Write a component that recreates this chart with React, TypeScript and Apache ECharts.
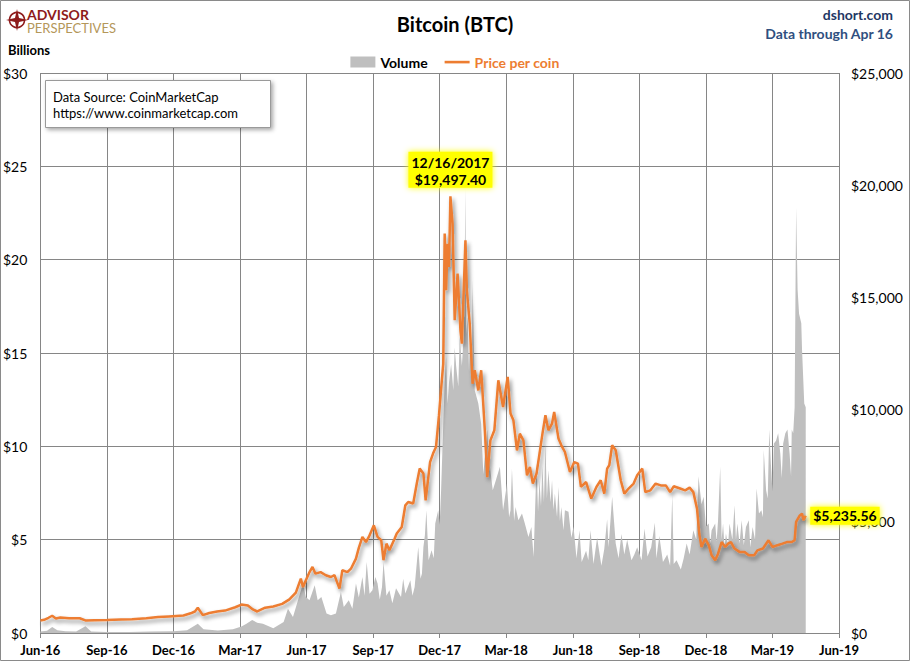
import React, { useEffect, useRef } from 'react';
import * as echarts from 'echarts';

const FONT = 'Lato, "Noto Sans", sans-serif';

const xTickLabels = ['Jun-16', 'Sep-16', 'Dec-16', 'Mar-17', 'Jun-17', 'Sep-17', 'Dec-17', 'Mar-18', 'Jun-18', 'Sep-18', 'Dec-18', 'Mar-19', 'Jun-19'];

const priceDates = [
  '2016-06-01', '2016-06-06', '2016-06-12', '2016-06-17', '2016-06-22', '2016-06-28', '2016-07-10', '2016-07-25', '2016-08-02', '2016-08-15',
  '2016-09-01', '2016-09-20', '2016-10-05', '2016-10-25', '2016-11-10', '2016-11-25', '2016-12-05', '2016-12-15', '2016-12-25', '2016-12-31',
  '2017-01-04', '2017-01-11', '2017-01-20', '2017-01-31', '2017-02-10', '2017-02-23', '2017-03-03', '2017-03-12', '2017-03-19', '2017-03-25',
  '2017-04-05', '2017-04-16', '2017-04-28', '2017-05-08', '2017-05-17', '2017-05-24', '2017-05-27', '2017-05-31', '2017-06-05', '2017-06-09',
  '2017-06-13', '2017-06-20', '2017-06-27', '2017-07-04', '2017-07-09', '2017-07-16', '2017-07-20', '2017-07-27', '2017-08-01', '2017-08-08',
  '2017-08-12', '2017-08-17', '2017-08-22', '2017-08-26', '2017-09-02', '2017-09-07', '2017-09-12', '2017-09-15', '2017-09-19', '2017-09-23',
  '2017-09-30', '2017-10-03', '2017-10-10', '2017-10-15', '2017-10-19', '2017-10-26', '2017-10-31', '2017-11-04', '2017-11-09', '2017-11-12',
  '2017-11-18', '2017-11-22', '2017-11-26', '2017-11-30', '2017-12-04', '2017-12-06', '2017-12-08', '2017-12-10', '2017-12-12', '2017-12-14',
  '2017-12-16', '2017-12-19', '2017-12-22', '2017-12-26', '2017-12-30', '2018-01-01', '2018-01-06', '2018-01-08', '2018-01-12', '2018-01-16',
  '2018-01-19', '2018-01-24', '2018-01-28', '2018-02-02', '2018-02-05', '2018-02-09', '2018-02-14', '2018-02-19', '2018-02-25', '2018-03-03',
  '2018-03-07', '2018-03-11', '2018-03-16', '2018-03-20', '2018-03-25', '2018-03-30', '2018-04-03', '2018-04-07', '2018-04-12', '2018-04-16',
  '2018-04-20', '2018-04-24', '2018-04-28', '2018-05-03', '2018-05-06', '2018-05-12', '2018-05-16', '2018-05-21', '2018-05-28', '2018-06-03',
  '2018-06-08', '2018-06-12', '2018-06-19', '2018-06-26', '2018-07-03', '2018-07-09', '2018-07-14', '2018-07-18', '2018-07-21', '2018-07-25',
  '2018-07-30', '2018-08-06', '2018-08-11', '2018-08-17', '2018-08-24', '2018-08-29', '2018-09-05', '2018-09-09', '2018-09-16', '2018-09-23',
  '2018-09-30', '2018-10-07', '2018-10-13', '2018-10-18', '2018-10-27', '2018-11-03', '2018-11-09', '2018-11-14', '2018-11-19', '2018-11-22',
  '2018-11-25', '2018-11-30', '2018-12-05', '2018-12-09', '2018-12-14', '2018-12-18', '2018-12-23', '2018-12-28', '2019-01-01', '2019-01-05',
  '2019-01-10', '2019-01-17', '2019-01-24', '2019-01-30', '2019-02-06', '2019-02-10', '2019-02-17', '2019-02-24', '2019-03-01', '2019-03-08',
  '2019-03-15', '2019-03-21', '2019-03-28', '2019-04-01', '2019-04-03', '2019-04-08', '2019-04-11', '2019-04-13', '2019-04-16',
];

const priceValues = [
  560, 590, 680, 770, 650, 690, 660, 660, 560, 570,
  575, 600, 615, 660, 710, 740, 760, 780, 880, 960,
  1130, 800, 890, 960, 1000, 1150, 1270, 1230, 1050, 960,
  1130, 1180, 1300, 1500, 1800, 2430, 2050, 2350, 2720, 2950,
  2650, 2720, 2580, 2500, 2580, 1980, 2800, 2720, 2870, 3320,
  3800, 4290, 4060, 4290, 4810, 4290, 4140, 3250, 3990, 3690,
  4210, 4440, 4730, 5700, 5850, 5780, 6670, 7340, 7120, 5920,
  7630, 8010, 8300, 9700, 11280, 12030, 17830, 15300, 17380, 16340,
  19497.4, 18280, 13960, 16050, 13510, 12920, 17530, 15300, 13810, 11130,
  11730, 10830, 11730, 9050, 6960, 8600, 9050, 11280, 10090, 11430,
  9800, 9500, 8150, 8900, 8600, 7040, 7410, 6670, 7120, 8010,
  8900, 9720, 9050, 9350, 9870, 8680, 8380, 8080, 7190, 7630,
  7560, 6520, 6740, 6000, 6520, 6820, 6220, 7340, 7490, 8380,
  8160, 6820, 6220, 6450, 6670, 7040, 7340, 6290, 6370, 6670,
  6590, 6590, 6290, 6550, 6450, 6370, 6490, 6290, 5550, 4440,
  3840, 4210, 3920, 3470, 3250, 3540, 4060, 3840, 3990, 4060,
  3770, 3620, 3620, 3470, 3470, 3690, 3770, 4140, 3840, 3920,
  3990, 4060, 4060, 4140, 4960, 5250, 5330, 5030, 5235.56,
];

const volumeDates = [
  '2016-06-01', '2016-06-10', '2016-06-17', '2016-06-24', '2016-07-05', '2016-07-20', '2016-08-02', '2016-08-10', '2016-09-01', '2016-10-01',
  '2016-11-01', '2016-12-01', '2016-12-20', '2017-01-04', '2017-01-12', '2017-02-01', '2017-02-20', '2017-03-03', '2017-03-10', '2017-03-18',
  '2017-03-25', '2017-04-02', '2017-04-16', '2017-04-30', '2017-05-06', '2017-05-13', '2017-05-20', '2017-05-27', '2017-05-31', '2017-06-05',
  '2017-06-12', '2017-06-16', '2017-06-21', '2017-06-28', '2017-07-04', '2017-07-11', '2017-07-18', '2017-07-22', '2017-07-29', '2017-08-03',
  '2017-08-08', '2017-08-12', '2017-08-17', '2017-08-20', '2017-08-23', '2017-08-27', '2017-08-31', '2017-09-04', '2017-09-07', '2017-09-10',
  '2017-09-13', '2017-09-15', '2017-09-19', '2017-09-23', '2017-09-27', '2017-10-02', '2017-10-09', '2017-10-12', '2017-10-15', '2017-10-22',
  '2017-10-25', '2017-10-28', '2017-11-02', '2017-11-05', '2017-11-07', '2017-11-09', '2017-11-11', '2017-11-13', '2017-11-16', '2017-11-20',
  '2017-11-23', '2017-11-25', '2017-11-29', '2017-12-01', '2017-12-03', '2017-12-06', '2017-12-08', '2017-12-10', '2017-12-12', '2017-12-14',
  '2017-12-17', '2017-12-20', '2017-12-22', '2017-12-24', '2017-12-27', '2017-12-29', '2018-01-01', '2018-01-04', '2018-01-06', '2018-01-07',
  '2018-01-09', '2018-01-11', '2018-01-13', '2018-01-15', '2018-01-16', '2018-01-19', '2018-01-24', '2018-01-28', '2018-01-31', '2018-02-05',
  '2018-02-07', '2018-02-12', '2018-02-16', '2018-02-21', '2018-02-25', '2018-03-02', '2018-03-05', '2018-03-07', '2018-03-09', '2018-03-12',
  '2018-03-14', '2018-03-18', '2018-03-23', '2018-03-27', '2018-04-01', '2018-04-05', '2018-04-08', '2018-04-12', '2018-04-14', '2018-04-16',
  '2018-04-18', '2018-04-20', '2018-04-22', '2018-04-24', '2018-04-26', '2018-04-28', '2018-05-01', '2018-05-03', '2018-05-05', '2018-05-07',
  '2018-05-10', '2018-05-12', '2018-05-14', '2018-05-16', '2018-05-19', '2018-05-21', '2018-05-26', '2018-05-30', '2018-06-02', '2018-06-06',
  '2018-06-10', '2018-06-13', '2018-06-19', '2018-06-22', '2018-06-25', '2018-06-29', '2018-07-04', '2018-07-10', '2018-07-14', '2018-07-18',
  '2018-07-20', '2018-07-25', '2018-07-30', '2018-08-03', '2018-08-07', '2018-08-11', '2018-08-15', '2018-08-21', '2018-08-25', '2018-08-29',
  '2018-09-04', '2018-09-08', '2018-09-12', '2018-09-17', '2018-09-22', '2018-09-24', '2018-09-28', '2018-10-03', '2018-10-09', '2018-10-13',
  '2018-10-16', '2018-10-18', '2018-10-22', '2018-10-28', '2018-11-01', '2018-11-05', '2018-11-09', '2018-11-14', '2018-11-18', '2018-11-21',
  '2018-11-25', '2018-11-28', '2018-12-01', '2018-12-05', '2018-12-07', '2018-12-09', '2018-12-14', '2018-12-16', '2018-12-18', '2018-12-21',
  '2018-12-23', '2018-12-25', '2018-12-27', '2018-12-29', '2019-01-01', '2019-01-03', '2019-01-07', '2019-01-10', '2019-01-12', '2019-01-14',
  '2019-01-17', '2019-01-20', '2019-01-23', '2019-01-26', '2019-01-30', '2019-02-01', '2019-02-04', '2019-02-07', '2019-02-09', '2019-02-12',
  '2019-02-15', '2019-02-17', '2019-02-18', '2019-02-21', '2019-02-23', '2019-02-25', '2019-02-27', '2019-03-01', '2019-03-03', '2019-03-06',
  '2019-03-09', '2019-03-12', '2019-03-14', '2019-03-16', '2019-03-19', '2019-03-22', '2019-03-25', '2019-03-27', '2019-03-28', '2019-03-30',
  '2019-04-01', '2019-04-03', '2019-04-05', '2019-04-07', '2019-04-10', '2019-04-11', '2019-04-14', '2019-04-16',
];

const volumeValues = [
  0.08, 0.12, 0.32, 0.15, 0.1, 0.08, 0.36, 0.08, 0.06, 0.06,
  0.08, 0.1, 0.15, 0.5, 0.2, 0.14, 0.2, 0.35, 0.5, 0.7,
  0.55, 0.5, 0.25, 0.59, 1.3, 0.86, 1.75, 2.65, 1.93, 1.75,
  2.56, 1.75, 1.93, 1.04, 0.95, 1.04, 2.2, 1.39, 1.75, 1.3,
  2.65, 1.9, 3.0, 2.0, 3.8, 2.1, 2.29, 3.0, 2.65, 1.8,
  2.47, 3.8, 2.0, 2.29, 1.6, 2.4, 1.93, 2.9, 2.11, 2.82,
  2.0, 2.47, 4.61, 2.9, 3.18, 4.61, 5.24, 6.58, 3.9, 4.43,
  4.0, 5.86, 6.58, 5.8, 7.65, 11.2, 13.4, 14.8, 12.3, 13.4,
  14.4, 13.0, 15.3, 14.3, 13.2, 15.9, 14.3, 16.2, 23.8, 16.0,
  16.9, 14.0, 16.6, 13.6, 18.9, 13.0, 12.3, 11.2, 8.5, 10.9,
  9.4, 7.65, 8.2, 8.9, 6.58, 8.0, 6.2, 6.58, 8.8, 6.0,
  6.75, 6.04, 6.4, 5.86, 5.14, 5.68, 4.07, 9.08, 6.5, 8.18,
  6.8, 8.9, 7.0, 10.15, 7.2, 8.72, 7.0, 8.18, 6.6, 7.47,
  6.2, 7.82, 6.0, 6.75, 5.5, 6.58, 6.5, 5.1, 5.7, 4.0,
  5.5, 3.8, 4.4, 3.9, 5.5, 3.7, 5.1, 3.6, 4.5, 6.1,
  4.6, 7.3, 4.8, 4.0, 5.3, 4.2, 5.0, 3.9, 4.2, 4.6,
  3.9, 5.6, 4.1, 4.6, 5.9, 4.0, 5.2, 3.8, 4.2, 3.6,
  7.4, 3.7, 3.9, 3.4, 4.0, 4.8, 4.2, 5.5, 5.0, 8.4,
  6.9, 7.3, 5.7, 5.86, 4.8, 5.5, 5.86, 4.9, 6.04, 8.9,
  5.0, 5.86, 4.6, 5.33, 4.7, 5.86, 5.0, 6.84, 5.0, 5.86,
  4.8, 6.04, 4.7, 5.68, 6.04, 4.6, 5.68, 5.0, 7.74, 6.4,
  6.58, 6.2, 9.8, 7.65, 7.2, 10.9, 9.08, 7.6, 10.15, 10.3,
  10.7, 9.6, 8.3, 10.15, 10.7, 10.9, 9.6, 8.4, 10.9, 10.7,
  12.1, 22.8, 18.4, 17.1, 16.6, 15.2, 12.3, 12.1,
];

// Fractional months since Jun 1, 2016 (x axis runs 0..36, one tick per quarter).
function toMonthIndex(s: string): number {
  const [y, m, d] = s.split('-').map(Number);
  const dim = new Date(y, m, 0).getDate();
  return (y - 2016) * 12 + (m - 6) + (d - 1) / dim;
}

function money(v: number, digits: number): string {
  return '$' + v.toLocaleString('en-US', { minimumFractionDigits: digits, maximumFractionDigits: digits });
}

function usDate(s: string): string {
  const [y, m, d] = s.split('-').map(Number);
  return `${m}/${d}/${y}`;
}

export default function App() {
  const ref = useRef<HTMLDivElement>(null);

  useEffect(() => {
    if (!ref.current) return;
    const chart = echarts.init(ref.current, undefined, { renderer: 'svg' });

    const n = Math.min(volumeDates.length, volumeValues.length);
    const priceData = priceDates.map((d, i) => [toMonthIndex(d), priceValues[i]]);
    const volumeData = volumeDates.slice(0, n).map((d, i) => [toMonthIndex(d), volumeValues[i]]);

    let peakIdx = 0;
    priceValues.forEach((v, i) => { if (v > priceValues[peakIdx]) peakIdx = i; });
    const lastIdx = priceValues.length - 1;

    const labelBase = {
      show: true,
      color: '#000',
      fontFamily: FONT,
      fontSize: 14,
      fontWeight: 'bold' as const,
      backgroundColor: '#FFFF00',
      shadowColor: '#FFFF00',
      shadowBlur: 6,
      lineHeight: 17,
    };

    const option: any = {
      animation: false,
      backgroundColor: '#fff',
      title: {
        text: 'Bitcoin (BTC)',
        left: 'center',
        top: 9,
        textStyle: { fontFamily: FONT, fontSize: 20, fontWeight: 'bold', color: '#000' },
      },
      legend: {
        top: 50,
        left: 'center',
        itemWidth: 25,
        itemHeight: 11,
        itemGap: 17,
        selectedMode: false,
        textStyle: { fontFamily: FONT, fontSize: 14, fontWeight: 'bold' },
        data: [
          { name: 'Volume', icon: 'rect', textStyle: { color: '#000' } },
          { name: 'Price per coin', icon: 'path://M0,0M25,11M0,4.3h25v2.6h-25z', textStyle: { color: '#ED7D31' } },
        ],
      },
      grid: { left: 36, right: 71, top: 73, bottom: 28, containLabel: false },
      xAxis: {
        type: 'value',
        min: 0,
        max: 36,
        interval: 3,
        axisLine: { show: true, lineStyle: { color: '#868686', width: 1 } },
        axisTick: { show: true, length: 5, lineStyle: { color: '#868686' } },
        axisLabel: {
          formatter: (v: number) => xTickLabels[Math.round(v / 3)] ?? '',
          fontFamily: FONT,
          fontSize: 13,
          fontWeight: 'bold',
          color: '#000',
          margin: 10,
          showMinLabel: true,
          showMaxLabel: true,
        },
        splitLine: { show: true, lineStyle: { color: '#868686', width: 1 } },
      },
      yAxis: [
        {
          type: 'value',
          position: 'left',
          min: 0,
          max: 30,
          interval: 5,
          axisLine: { show: false },
          axisTick: { show: false },
          axisLabel: {
            formatter: (v: number) => '$' + v,
            fontFamily: FONT,
            fontSize: 14,
            color: '#000',
            margin: 13,
          },
          splitLine: { show: true, lineStyle: { color: '#868686', width: 1 } },
        },
        {
          type: 'value',
          position: 'right',
          min: 0,
          max: 25000,
          interval: 5000,
          axisLine: { show: false },
          axisTick: { show: false },
          axisLabel: {
            formatter: (v: number) => money(v, 0),
            fontFamily: FONT,
            fontSize: 14,
            color: '#000',
            margin: 12,
          },
          splitLine: { show: false },
        },
      ],
      series: [
        {
          name: 'Volume',
          type: 'line',
          yAxisIndex: 0,
          data: volumeData,
          color: '#BFBFBF',
          showSymbol: false,
          symbol: 'none',
          lineStyle: { width: 0, color: '#BFBFBF' },
          areaStyle: { color: '#BFBFBF', opacity: 1 },
          itemStyle: { color: '#BFBFBF' },
          z: 2,
          silent: true,
        },
        {
          name: 'Price per coin',
          type: 'line',
          yAxisIndex: 1,
          data: priceData,
          color: '#ED7D31',
          showSymbol: false,
          symbol: 'none',
          itemStyle: { color: '#ED7D31' },
          lineStyle: {
            color: '#ED7D31',
            width: 2.5,
            shadowColor: 'rgba(0,0,0,0.45)',
            shadowBlur: 4,
            shadowOffsetX: 2,
            shadowOffsetY: 3,
          },
          z: 3,
          silent: true,
          markPoint: {
            symbol: 'circle',
            symbolSize: 1,
            itemStyle: { color: 'rgba(0,0,0,0)' },
            data: [
              {
                coord: priceData[peakIdx],
                label: {
                  ...labelBase,
                  position: 'top',
                  distance: 8,
                  padding: [2, 3, 0, 3],
                  formatter: () => usDate(priceDates[peakIdx]) + '\n' + money(priceValues[peakIdx], 2),
                },
              },
              {
                coord: priceData[lastIdx],
                label: {
                  ...labelBase,
                  position: 'right',
                  distance: 4,
                  padding: [1, 3, 0, 3],
                  formatter: () => money(priceValues[lastIdx], 2),
                },
              },
            ],
          },
        },
      ],
      graphic: [
        // outer frame
        { type: 'rect', silent: true, z: 100, shape: { x: 0.5, y: 0.5, width: 909, height: 660 }, style: { fill: 'none', stroke: '#8a8a8a', lineWidth: 1 } },
        // logo
        { type: 'circle', silent: true, shape: { cx: 17, cy: 20, r: 7.5 }, style: { fill: 'none', stroke: '#8E1B1B', lineWidth: 1.6 } },
        {
          type: 'polygon', silent: true,
          shape: { points: [[17, 9], [19, 18], [28, 20], [19, 22], [17, 31], [15, 22], [6, 20], [15, 18]] },
          style: { fill: '#8E1B1B' },
        },
        {
          type: 'text', silent: true,
          style: {
            x: 27, y: 21,
            text: '{a|ADVISOR}\n{b|PERSPECTIVES}',
            align: 'left', verticalAlign: 'middle',
            rich: {
              a: { fontFamily: FONT, fontSize: 14, fontWeight: 'bold', fill: '#8E1B1B', lineHeight: 13 },
              b: { fontFamily: FONT, fontSize: 13, fill: '#B4975A', lineHeight: 13 },
            },
          },
        },
        // top right
        { type: 'text', silent: true, style: { x: 893, y: 14, text: 'dshort.com', font: `bold 14px ${FONT}`, fill: '#1F3864', align: 'right', verticalAlign: 'middle' } },
        { type: 'text', silent: true, style: { x: 893, y: 33, text: 'Data through Apr 16', font: `bold 14px ${FONT}`, fill: '#2F4F80', align: 'right', verticalAlign: 'middle' } },
        // left unit
        { type: 'text', silent: true, style: { x: 8, y: 50, text: 'Billions', font: `bold 13px ${FONT}`, fill: '#000', align: 'left', verticalAlign: 'middle' } },
        // source box
        {
          type: 'rect', silent: true, z: 50,
          shape: { x: 45.5, y: 80.5, width: 225, height: 47 },
          style: { fill: '#fff', stroke: '#9a9a9a', lineWidth: 1, shadowColor: 'rgba(0,0,0,0.35)', shadowBlur: 4, shadowOffsetX: 2, shadowOffsetY: 2 },
        },
        { type: 'text', silent: true, z: 51, style: { x: 53, y: 97, text: 'Data Source: CoinMarketCap', font: `13px ${FONT}`, fill: '#000', align: 'left', verticalAlign: 'middle' } },
        { type: 'text', silent: true, z: 51, style: { x: 53, y: 113, text: 'https://www.coinmarketcap.com', font: `13px ${FONT}`, fill: '#000', align: 'left', verticalAlign: 'middle' } },
      ],
    };

    chart.setOption(option);
    return () => chart.dispose();
  }, []);

  return (
    <div
      ref={ref}
      style={{ position: 'fixed', left: 0, top: 0, width: 910, height: 661, background: '#fff' }}
    />
  );
}
